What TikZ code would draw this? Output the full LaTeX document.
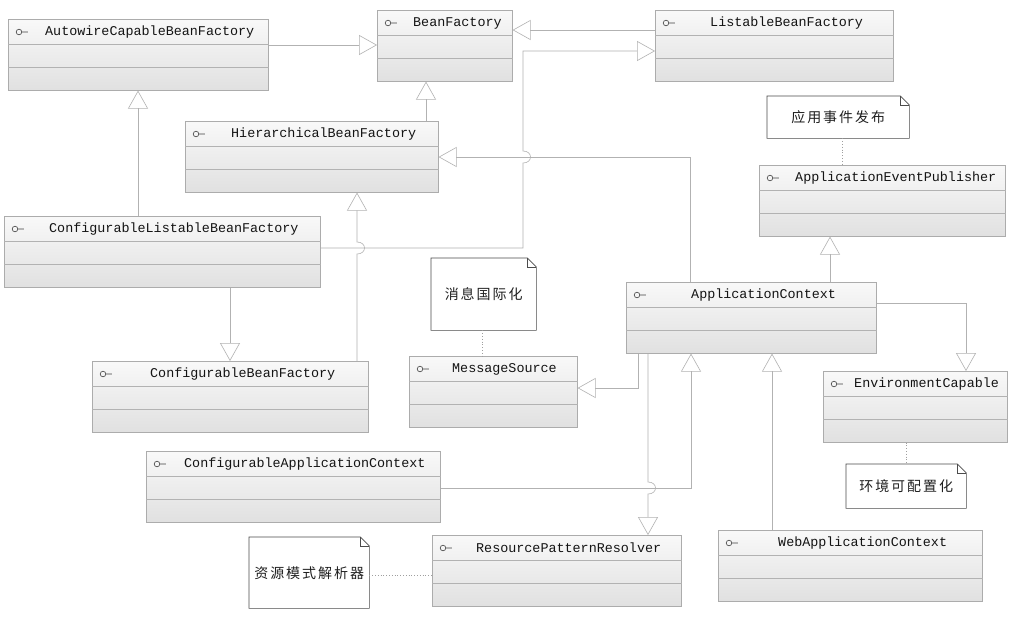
\documentclass[tikz,border=0pt]{standalone}
\usepackage{fontspec}
\setmonofont{Liberation Mono}
\newfontfamily\cjk[LetterSpace=14]{Noto Sans CJK SC}
\usetikzlibrary{arrows.meta}
\tikzset{
 clsbox/.style={draw=gray!65, line width=0.6pt, top color=gray!5, bottom color=gray!24, inner sep=0pt},
 divline/.style={draw=gray!60, line width=0.5pt},
 icon/.style={draw=black!75, line width=0.6pt},
 lbl/.style={font=\fontsize{13.4}{15}\selectfont\ttfamily, text=black!92, inner sep=0pt},
 notebox/.style={inner sep=0pt, fill=white, font=\fontsize{14}{16}\selectfont\cjk, text=black!88},
 noteline/.style={draw=black!70, line width=0.6pt},
 conn/.style={draw=gray!60, line width=0.6pt, -{Triangle[open, length=18pt, width=20pt, line width=0.6pt]}},
 notelink/.style={draw=gray!75, line width=0.8pt, dotted},
}
\newcommand\ucls[6]{%
 \node[clsbox, minimum width=#4pt, minimum height=71pt, anchor=north west] (#1) at (#2,#3) {};
 \draw[divline] ([yshift=-25pt]#1.north west) -- ([yshift=-25pt]#1.north east);
 \draw[divline] ([yshift=-48pt]#1.north west) -- ([yshift=-48pt]#1.north east);
 \draw[icon] ([xshift=11pt,yshift=-13pt]#1.north west) circle (2.8pt) ++(2.8pt,0) -- ++(6pt,0);
 \node[lbl, anchor=west] (#1-t) at ([xshift=#5pt,yshift=-13pt]#1.north west) {#6};
}
\newcommand\unote[6]{%
 \node[notebox, minimum width=#4pt, minimum height=#5pt, anchor=north west] (#1) at (#2,#3) {#6};
 \draw[noteline] (#1.north west) -- ([xshift=-9pt]#1.north east) -- ([yshift=-9pt]#1.north east) -- (#1.south east) -- (#1.south west) -- cycle;
 \draw[noteline] ([xshift=-9pt]#1.north east) |- ([yshift=-9pt]#1.north east);
}
\begin{document}
\begin{tikzpicture}[x=1pt, y=-1pt]
\useasboundingbox[fill=white] (0,0) rectangle (1024,619);
% classes
\ucls{acbf}{8}{19}{260}{37}{AutowireCapableBeanFactory}
\ucls{bf}{377}{10}{135}{36}{BeanFactory}
\ucls{lbf}{655}{10}{238}{55}{ListableBeanFactory}
\ucls{hbf}{185}{121}{253}{46}{HierarchicalBeanFactory}
\ucls{clbf}{4}{216}{316}{45}{ConfigurableListableBeanFactory}
\ucls{cbf}{92}{361}{276}{58}{ConfigurableBeanFactory}
\ucls{ms}{409}{356}{168}{43}{MessageSource}
\ucls{ac}{626}{282}{250}{65}{ApplicationContext}
\ucls{aep}{759}{165}{246}{36}{ApplicationEventPublisher}
\ucls{ec}{823}{371}{184}{31}{EnvironmentCapable}
\ucls{cac}{146}{451}{294}{38}{ConfigurableApplicationContext}
\ucls{rpr}{432}{535}{249}{44}{ResourcePatternResolver}
\ucls{wac}{718}{530}{264}{60}{WebApplicationContext}
% notes
\unote{naep}{767}{96}{142}{42}{应用事件发布}
\unote{nms}{431}{258}{105}{72}{消息国际化}
\unote{nec}{846}{464}{120}{44}{环境可配置化}
\unote{nrpr}{249}{537}{120}{71}{资源模式解析器}
% note links
\draw[notelink] (naep.south -| 842,0) -- (aep.north -| 842,0);
\draw[notelink] (nms.south -| 482,0) -- (ms.north -| 482,0);
\draw[notelink] (ec.south -| 906,0) -- (nec.north -| 906,0);
\draw[notelink] (nrpr.east |- 0,575) -- (rpr.west |- 0,575);
% connectors
\draw[conn] (acbf.east |- 0,45) -- (bf.west |- 0,45);
\draw[conn] (lbf.west |- 0,30) -- (bf.east |- 0,30);
\draw[conn] (hbf.north -| 426,0) -- (bf.south -| 426,0);
\draw[conn] (clbf.north -| 138,0) -- (acbf.south -| 138,0);
\draw[conn] (clbf.east |- 0,248) -- (523,248) -- (523,163) .. controls (533,163) and (533,151) .. (523,151) -- (523,51) -- (lbf.west |- 0,51);
\draw[conn] (cbf.north -| 357,0) -- (357,254) .. controls (367,254) and (367,242) .. (357,242) -- (hbf.south -| 357,0);
\draw[conn] (clbf.south -| 230,0) -- (cbf.north -| 230,0);
\draw[conn] (ac.north -| 690,0) -- (690,157) -- (hbf.east |- 0,157);
\draw[conn] (ac.north -| 830,0) -- (aep.south -| 830,0);
\draw[conn] (ac.east |- 0,303) -- (966,303) -- (ec.north -| 966,0);
\draw[conn] (ac.south -| 638,0) -- (638,388) -- (ms.east |- 0,388);
\draw[conn] (ac.south -| 648,0) -- (648,482) .. controls (658,482) and (658,494) .. (648,494) -- (rpr.north -| 648,0);
\draw[conn] (cac.east |- 0,488) -- (691,488) -- (ac.south -| 691,0);
\draw[conn] (wac.north -| 772,0) -- (ac.south -| 772,0);
\end{tikzpicture}
\end{document}
